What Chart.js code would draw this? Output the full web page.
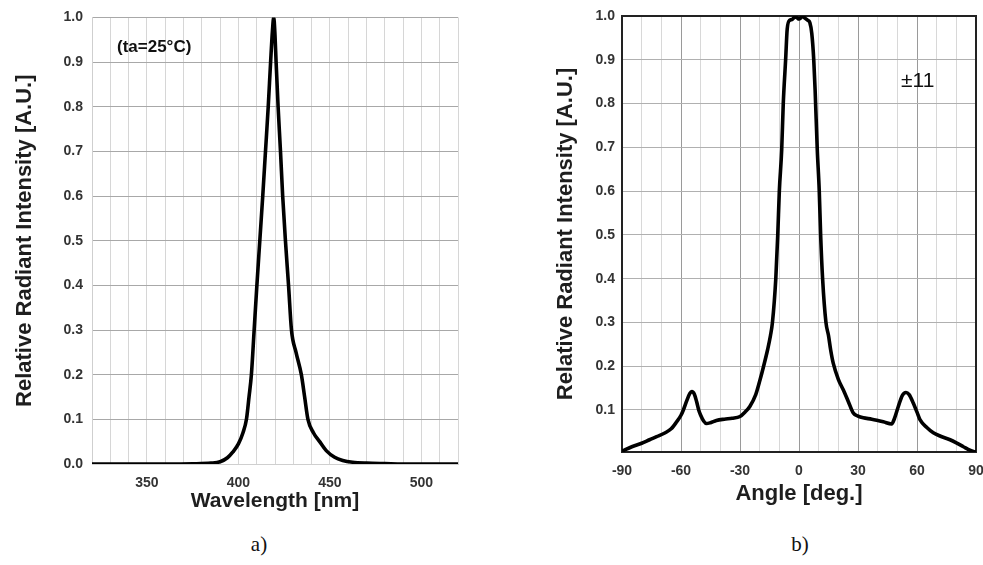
<!DOCTYPE html>
<html>
<head>
<meta charset="utf-8">
<script src="https://cdn.jsdelivr.net/npm/chart.js@4/dist/chart.umd.min.js"></script>
<style>
  html,body{margin:0;padding:0;background:#fff;}
  body{width:983px;height:565px;overflow:hidden;position:relative;font-family:"Liberation Sans",Arial,sans-serif;}
  .box{position:absolute;top:0;height:530px;}
  .note{position:absolute;white-space:nowrap;color:#111;line-height:1;}
  .cap{position:absolute;font-family:"Liberation Serif","Times New Roman",serif;font-size:21px;color:#111;transform:translateX(-50%);line-height:1;}
</style>
</head>
<body>
<div class="box" style="left:0;width:475px;"><canvas id="chartA"></canvas></div>
<div class="box" style="left:490px;width:510px;"><canvas id="chartB"></canvas></div>
<div class="note" style="left:117px;top:38px;font-weight:bold;font-size:17px;">(ta=25°C)</div>
<div class="note" style="left:901px;top:69px;font-size:21px;">±11</div>
<div class="cap" style="left:259px;top:534px;">a)</div>
<div class="cap" style="left:800px;top:534px;">b)</div>
<script>
// ---- Data: chart a) spectrum ----
const wavelengths = [320,340,360,375,385,390,394,397,400,402.5,404.4,405.8,407.1,408.6,410.1,411.7,413.3,414.8,416.3,417.6,418.6,419.3,420,420.6,421.7,423,424.2,425.7,427.4,429,431.5,434.4,436.2,438,441,444.4,448,452.6,457,462.4,470,480,495,520];
const intensityA = [0,0,0,0.0005,0.002,0.005,0.014,0.027,0.045,0.07,0.1,0.15,0.2,0.3,0.4,0.5,0.6,0.7,0.8,0.9,0.97,1.0,0.96,0.9,0.8,0.7,0.6,0.5,0.4,0.3,0.25,0.2,0.15,0.1,0.07,0.05,0.03,0.015,0.008,0.004,0.002,0.001,0,0];
const wavelengthTicks = [350,400,450,500];

// ---- Data: chart b) angular distribution ----
const angles = [-90,-85,-80,-76,-72.4,-68,-65,-62.2,-60,-58.8,-57,-55.5,-54.5,-53.2,-52,-51,-50,-48.5,-47,-45,-42,-38,-34,-30,-27.5,-25,-22,-19.8,-18,-16,-14.5,-13.5,-11.8,-10.8,-10,-8.8,-8,-6.8,-6,-4.8,-3.5,-2,-1,0,1,2,3,4.5,5.5,6.5,7.5,8.2,9.3,10.3,11,12,13.7,15,16.1,17.4,20,22.5,25,27.6,30,32.7,37,42.9,47.1,48.5,50.5,52.5,54.4,56,58.1,60,61.5,65,68.3,72,76.8,80,83.6,86,88.7,90];
const intensityB = [0.006,0.016,0.024,0.032,0.039,0.048,0.057,0.073,0.088,0.1,0.122,0.138,0.142,0.136,0.118,0.1,0.088,0.075,0.069,0.071,0.076,0.079,0.081,0.085,0.095,0.108,0.135,0.169,0.2,0.237,0.27,0.3,0.4,0.5,0.6,0.694,0.8,0.9,0.97,0.99,0.992,0.998,0.996,0.993,0.996,1.0,0.995,0.99,0.985,0.96,0.9,0.83,0.694,0.6,0.5,0.4,0.3,0.27,0.237,0.207,0.17,0.146,0.12,0.093,0.086,0.082,0.079,0.073,0.068,0.08,0.108,0.133,0.14,0.135,0.116,0.095,0.078,0.06,0.048,0.04,0.032,0.025,0.016,0.01,0.005,0.004];
const angleTicks = [-90,-60,-30,0,30,60,90];
const intensityTicks = [0.1,0.2,0.3,0.4,0.5,0.6,0.7,0.8,0.9,1.0];

const FONT = '"Liberation Sans", Arial, sans-serif';
const tickFont = {family: FONT, size: 14, weight: 'bold'};
const near = (a, b) => Math.abs(a - b) < 1e-6;

// ---- Chart a) ----
new Chart(document.getElementById('chartA'), {
  type: 'line',
  data: {
    datasets: [{
      data: wavelengths.map((w, i) => ({x: w, y: intensityA[i]})),
      borderColor: '#000', borderWidth: 3.6, pointRadius: 0,
      cubicInterpolationMode: 'monotone', fill: false
    }]
  },
  options: {
    responsive: true, maintainAspectRatio: false, animation: false, devicePixelRatio: 1,
    layout: {padding: {left: 0, top: 16, right: 17, bottom: 6}},
    plugins: {legend: {display: false}, tooltip: {enabled: false}},
    scales: {
      x: {
        type: 'linear', min: 320, max: 520,
        afterFit: s => { s.height = 60; },
        ticks: {
          stepSize: 10, autoSkip: false, maxRotation: 0, padding: 11,
          font: tickFont, color: '#333',
          callback: v => wavelengthTicks.some(t => near(t, v)) ? String(v) : ''
        },
        grid: {drawTicks: false, color: '#d6d6d6', lineWidth: 1},
        border: {color: '#cfcfcf'},
        title: {display: true, text: 'Wavelength [nm]', color: '#1e1e1e',
          font: {family: FONT, size: 21, weight: 'bold'}, padding: {top: 0, bottom: 10}}
      },
      y: {
        min: 0, max: 1,
        afterFit: s => { s.width = 92; },
        ticks: {stepSize: 0.1, padding: 9, font: tickFont, color: '#333',
          callback: v => Number(v).toFixed(1)},
        grid: {drawTicks: false, color: '#a8a8a8', lineWidth: 1},
        border: {color: '#cfcfcf'},
        title: {display: true, text: 'Relative Radiant Intensity [A.U.]', color: '#1e1e1e',
          font: {family: FONT, size: 22, weight: 'bold'}, padding: {top: 12, bottom: 0}}
      }
    }
  }
});

// ---- Chart b) ----
const frame = {
  id: 'frame',
  beforeDatasetsDraw(c) {
    const {ctx, chartArea: a} = c;
    ctx.save();
    ctx.strokeStyle = '#222';
    ctx.lineWidth = 2;
    ctx.strokeRect(a.left, a.top, a.right - a.left, a.bottom - a.top);
    ctx.restore();
  }
};

new Chart(document.getElementById('chartB'), {
  type: 'line',
  data: {
    datasets: [{
      data: angles.map((a, i) => ({x: a, y: intensityB[i]})),
      borderColor: '#000', borderWidth: 3.6, pointRadius: 0,
      cubicInterpolationMode: 'monotone', fill: false
    }]
  },
  options: {
    responsive: true, maintainAspectRatio: false, animation: false, devicePixelRatio: 1,
    layout: {padding: {left: 0, top: 16, right: 24, bottom: 18}},
    plugins: {legend: {display: false}, tooltip: {enabled: false}},
    scales: {
      x: {
        type: 'linear', min: -90, max: 90,
        afterFit: s => { s.height = 60; },
        ticks: {
          stepSize: 10, autoSkip: false, maxRotation: 0, padding: 11,
          font: tickFont, color: '#333',
          callback: v => angleTicks.some(t => near(t, v)) ? String(v) : ''
        },
        grid: {drawTicks: false, lineWidth: 1,
          color: ctx => (ctx.tick && Math.abs(ctx.tick.value) % 30 === 0) ? '#9a9a9a' : '#d8d8d8'},
        border: {color: '#222', width: 2},
        title: {display: true, text: 'Angle [deg.]', color: '#1e1e1e',
          font: {family: FONT, size: 22, weight: 'bold'}, padding: {top: 0, bottom: 5}}
      },
      y: {
        min: 0.004, max: 1,
        afterFit: s => { s.width = 132; },
        afterBuildTicks: s => { s.ticks = intensityTicks.map(v => ({value: v})); },
        ticks: {padding: 7, font: tickFont, color: '#333',
          callback: v => Number(v).toFixed(1)},
        grid: {drawTicks: false, color: '#b0b0b0', lineWidth: 1},
        border: {color: '#222', width: 2},
        title: {display: true, text: 'Relative Radiant Intensity [A.U.]', color: '#1e1e1e',
          font: {family: FONT, size: 22, weight: 'bold'}, padding: {top: 63, bottom: 0}}
      }
    }
  },
  plugins: [frame]
});
</script>
</body>
</html>
